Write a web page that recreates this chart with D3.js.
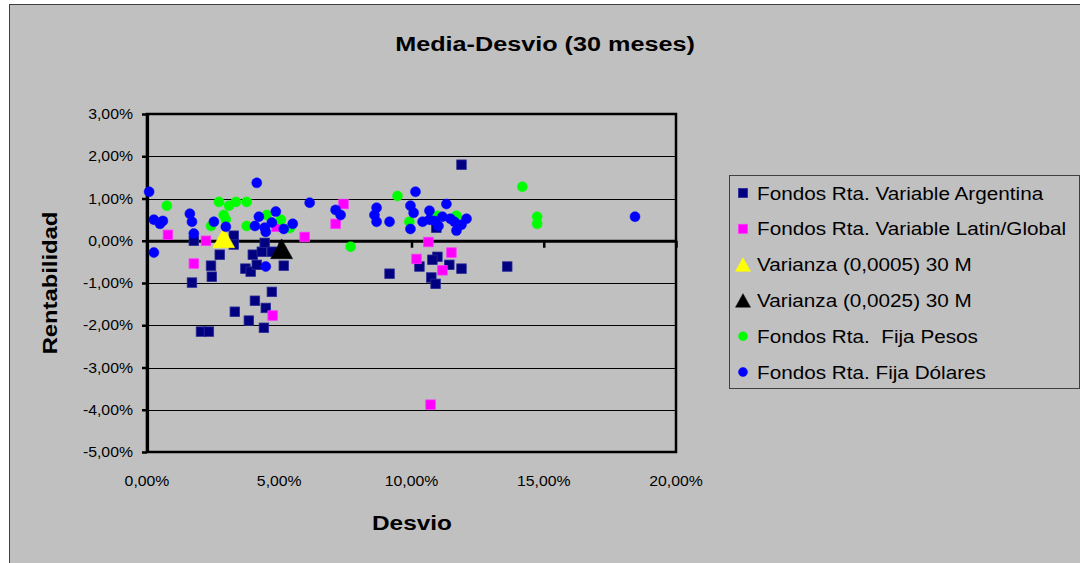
<!DOCTYPE html>
<html>
<head>
<meta charset="utf-8">
<script src="https://cdn.jsdelivr.net/npm/d3@7"></script>
<style>
  html, body { margin: 0; padding: 0; background: #ffffff; }
  svg { display: block; font-family: "Liberation Sans", Arial, sans-serif; }
</style>
</head>
<body>
<script>
// Desvío (%) vs rentabilidad (%) por fondo, 30 meses
const xTicks = [0, 5, 10, 15, 20];
const yTicks = [-5, -4, -3, -2, -1, 0, 1, 2, 3];

const rtaVariableArgentina = [
  [1.70, -0.99], [1.77, 0.00], [2.04, -2.15], [2.34, -2.15], [2.42, -0.59], [2.45, -0.85],
  [2.75, -0.33], [3.28, 0.12], [3.28, -0.09], [3.32, -1.68], [4.00, -0.33], [4.34, -0.26],
  [4.45, -0.05], [3.72, -0.66], [3.92, -0.73], [4.15, -0.57], [4.72, -0.26], [5.17, -0.59],
  [4.72, -1.21], [4.08, -1.42], [4.49, -1.59], [3.85, -1.89], [4.42, -2.06],
  [11.89, 1.80], [9.17, -0.78], [10.94, 0.31], [10.30, -0.61], [10.98, -0.38], [10.79, -0.45],
  [11.43, -0.57], [11.89, -0.66], [10.75, -0.87], [10.91, -1.02], [13.62, -0.61]
];
const rtaVariableLatinGlobal = [
  [0.79, 0.14], [2.23, 0.00], [1.77, -0.54], [4.90, 0.33], [4.75, -1.77], [5.96, 0.09],
  [7.13, 0.40], [7.43, 0.87], [10.64, -0.03], [10.19, -0.43], [11.51, -0.28], [11.17, -0.70],
  [10.72, -3.88]
];
const varianza0005 = [[2.90, 0.07]];
const varianza0025 = [[5.09, -0.19]];
const rtaFijaPesos = [
  [0.75, 0.83], [2.72, 0.92], [3.10, 0.83], [3.36, 0.92], [3.77, 0.92], [2.90, 0.61],
  [2.98, 0.50], [2.42, 0.35], [3.77, 0.35], [4.53, 0.61], [5.06, 0.50], [5.40, 0.30],
  [7.70, -0.14], [9.47, 1.06], [9.92, 0.45], [10.98, 0.59], [11.70, 0.59], [14.19, 1.28],
  [14.75, 0.57], [14.75, 0.40]
];
const rtaFijaDolares = [
  [0.08, 1.16], [0.26, 0.50], [0.49, 0.40], [0.60, 0.47], [0.26, -0.28], [1.62, 0.64],
  [1.70, 0.45], [1.77, 0.17], [2.53, 0.45], [2.98, 0.33], [4.15, 1.37], [4.23, 0.57],
  [4.87, 0.69], [4.08, 0.35], [4.45, 0.31], [4.49, 0.21], [4.72, 0.43], [5.17, 0.28],
  [5.51, 0.40], [6.15, 0.90], [4.49, -0.61], [7.13, 0.73], [7.32, 0.61], [8.68, 0.78],
  [8.60, 0.61], [8.68, 0.45], [9.17, 0.45], [10.15, 1.16], [9.96, 0.83], [10.08, 0.66],
  [9.96, 0.28], [10.68, 0.71], [10.42, 0.45], [10.68, 0.50], [10.87, 0.47], [11.02, 0.35],
  [11.32, 0.87], [11.17, 0.57], [11.47, 0.52], [11.62, 0.45], [11.89, 0.38], [11.70, 0.24],
  [12.08, 0.52], [18.45, 0.57]
];

const series = [
  { name: "Fondos Rta. Variable Argentina", data: rtaVariableArgentina, shape: "square", fill: "#000080", stroke: "#2a2a96" },
  { name: "Fondos Rta. Variable Latin/Global", data: rtaVariableLatinGlobal, shape: "square", fill: "#ff00ff", stroke: "#ff33ff" },
  { name: "Varianza (0,0005) 30 M", data: varianza0005, shape: "triangle", fill: "#ffff00", stroke: "#ffff00" },
  { name: "Varianza (0,0025) 30 M", data: varianza0025, shape: "triangle", fill: "#000000", stroke: "#000000" },
  { name: "Fondos Rta.  Fija Pesos", data: rtaFijaPesos, shape: "circle", fill: "#00ff00", stroke: "#00ff00" },
  { name: "Fondos Rta. Fija Dólares", data: rtaFijaDolares, shape: "circle", fill: "#0000ff", stroke: "#0000ff" }
];

const W = 1080, H = 563;
const grey = "#c0c0c0";
const plot = { left: 147, right: 676, top: 114, bottom: 452 };

const locale = d3.formatLocale({ decimal: ",", thousands: ".", grouping: [3], currency: ["$", ""], minus: "-" });
const pct = locale.format(".2%");

const svg = d3.select("body").append("svg").attr("width", W).attr("height", H);

// chart area
svg.append("rect")
  .attr("x", 9.5).attr("y", 4.5).attr("width", W + 20).attr("height", H + 20)
  .attr("fill", grey).attr("stroke", "#404040").attr("stroke-width", 1);

const x = d3.scaleLinear().domain([xTicks[0], xTicks[xTicks.length - 1]]).range([plot.left, plot.right]);
const y = d3.scaleLinear().domain([yTicks[0], yTicks[yTicks.length - 1]]).range([plot.bottom, plot.top]);

// text stretched along its baseline
function label(g, str, px, py, opt) {
  const rot = opt.rotate ? ` rotate(${opt.rotate})` : "";
  return g.append("text")
    .attr("transform", `translate(${px},${py})${rot} scale(${opt.sx || 1},1)`)
    .attr("text-anchor", opt.anchor || "start")
    .attr("font-size", opt.size)
    .attr("font-weight", opt.weight || "normal")
    .attr("fill", "#000")
    .text(str);
}

// plot area background
svg.append("rect")
  .attr("x", plot.left).attr("y", plot.top)
  .attr("width", plot.right - plot.left).attr("height", plot.bottom - plot.top)
  .attr("fill", grey);

// horizontal gridlines
svg.append("g").selectAll("line")
  .data(yTicks.slice(1, -1))
  .join("line")
  .attr("x1", plot.left).attr("x2", plot.right)
  .attr("y1", d => Math.round(y(d)) + 0.5).attr("y2", d => Math.round(y(d)) + 0.5)
  .attr("stroke", "#000").attr("stroke-width", 1.2);

// plot border
svg.append("rect")
  .attr("x", plot.left).attr("y", plot.top)
  .attr("width", plot.right - plot.left).attr("height", plot.bottom - plot.top)
  .attr("fill", "none").attr("stroke", "#000").attr("stroke-width", 2.5);

// y axis
const yAxis = svg.append("g")
  .attr("transform", `translate(${plot.left},0)`)
  .call(d3.axisLeft(y).tickValues(yTicks).tickSize(5).tickSizeOuter(0).tickFormat(""));
yAxis.select(".domain").attr("stroke", "#000").attr("stroke-width", 3.2);
yAxis.selectAll(".tick line").attr("stroke", "#000").attr("stroke-width", 2.5);

// x axis along zero
const xAxis = svg.append("g")
  .attr("transform", `translate(0,${y(0)})`)
  .call(d3.axisBottom(x).tickValues(xTicks).tickSize(7).tickSizeOuter(0).tickFormat(""));
xAxis.select(".domain").attr("stroke", "#000").attr("stroke-width", 3.2);
xAxis.selectAll(".tick line").attr("stroke", "#000").attr("stroke-width", 2.5);

// tick labels
const tl = svg.append("g");
yTicks.forEach(v => label(tl, pct(v / 100), 133, y(v) + 5, { size: 14, sx: 1.13, anchor: "end" }));
xTicks.forEach(v => label(tl, pct(v / 100), x(v), 486, { size: 14, sx: 1.13, anchor: "middle" }));

// titles
label(svg, "Media-Desvio (30 meses)", 545, 51, { size: 21, weight: "bold", sx: 1.2, anchor: "middle" });
label(svg, "Desvio", 412, 530, { size: 20, weight: "bold", sx: 1.22, anchor: "middle" });
label(svg, "Rentabilidad", 57, 283, { size: 20, weight: "bold", sx: 1.19, anchor: "middle", rotate: -90 });

// markers
function drawMarker(g, shape, cx, cy, s, fill, stroke) {
  if (shape === "square") {
    g.append("rect").attr("x", cx - s / 2).attr("y", cy - s / 2).attr("width", s).attr("height", s)
      .attr("fill", fill).attr("stroke", stroke).attr("stroke-width", 0.8);
  } else if (shape === "circle") {
    g.append("circle").attr("cx", cx).attr("cy", cy).attr("r", s / 2)
      .attr("fill", fill).attr("stroke", stroke).attr("stroke-width", 0.5);
  } else {
    const w = s, h = s * 0.9;
    g.append("path")
      .attr("d", `M${cx},${cy - h / 2}L${cx + w / 2},${cy + h / 2}L${cx - w / 2},${cy + h / 2}Z`)
      .attr("fill", fill).attr("stroke", stroke).attr("stroke-width", 0.5);
  }
}
const sizeInPlot = { square: 9.5, circle: 10, triangle: 22 };

const marks = svg.append("g");
series.forEach(sr => {
  const g = marks.append("g");
  sr.data.forEach(([dx, ry]) => drawMarker(g, sr.shape, x(dx), y(ry), sizeInPlot[sr.shape], sr.fill, sr.stroke));
});

// legend
const leg = svg.append("g");
leg.append("rect")
  .attr("x", 729.5).attr("y", 175.5).attr("width", 350).attr("height", 213)
  .attr("fill", grey).attr("stroke", "#404040").attr("stroke-width", 1);
const sizeInLegend = { square: 9, circle: 9, triangle: 15 };
series.forEach((sr, i) => {
  const cy = 193 + i * 35.8;
  drawMarker(leg, sr.shape, 743, cy, sizeInLegend[sr.shape], sr.fill, sr.stroke);
  label(leg, sr.name, 757, cy + 6.5, { size: 18.5, sx: 1.12, anchor: "start" }).attr("xml:space", "preserve").style("white-space", "pre");
});
</script>
</body>
</html>
